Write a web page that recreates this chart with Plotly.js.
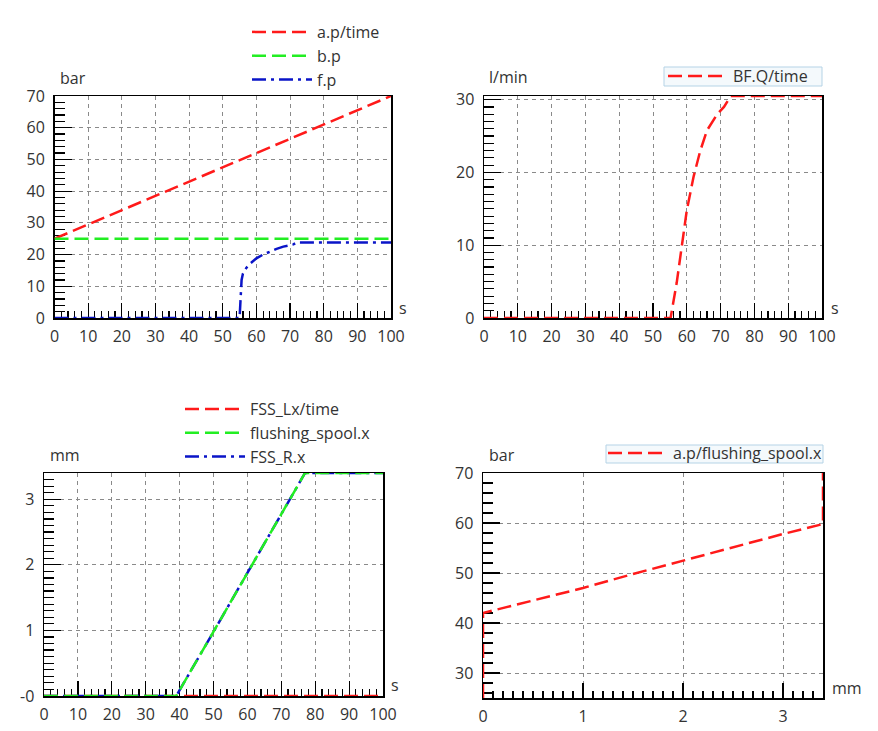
<!DOCTYPE html>
<html>
<head>
<meta charset="utf-8">
<script src="https://cdn.plot.ly/plotly-3.0.1.min.js"></script>
<style>html,body{margin:0;padding:0;background:#fff;}#chart{width:878px;height:731px;}</style>
</head>
<body>
<div id="chart"></div>
<script>
// ---------- Panel 1: pressures vs time ----------
const t1 = [0, 10, 20, 30, 40, 50, 60, 70, 80, 90, 100];
const ap_time = [25, 29.5, 34, 38.5, 43, 47.5, 52, 56.5, 61, 65.5, 70];
const bp_time = [25, 25, 25, 25, 25, 25, 25, 25, 25, 25, 25];
const t_fp = [0, 55, 55.3, 55.6, 56, 57, 58, 59, 60, 62, 64, 66, 68, 70, 71, 72, 80, 90, 100];
const fp = [0, 0, 6, 12, 14, 15.8, 17, 18, 18.8, 20, 21, 21.8, 22.5, 23, 23.2, 23.8, 23.8, 23.8, 23.8];

// ---------- Panel 2: flow vs time ----------
const t_q = [0, 55.2, 57, 58.5, 60, 62, 64, 66, 69, 71, 73, 80, 90, 100];
const bfq = [0, 0, 4.8, 9.8, 14.8, 19.4, 23, 25.8, 28, 29, 30.5, 30.5, 30.5, 30.5];

// ---------- Panel 3: spool positions vs time ----------
const t_s = [0, 39, 50, 60, 70, 77, 80, 90, 100];
const fss_lx = [0, 0, 0, 0, 0, 0, 0, 0, 0];
const spool_x = [0, 0, 0.98, 1.87, 2.76, 3.4, 3.4, 3.4, 3.4];
const fss_rx = [0, 0, 0.98, 1.87, 2.76, 3.4, 3.4, 3.4, 3.4];

// ---------- Panel 4: pressure vs spool position ----------
const sx = [0, 0, 0, 0.5, 1, 1.5, 2, 2.5, 3, 3.4, 3.4];
const ap_sx = [25, 35, 42, 44.5, 47, 49.8, 52.5, 55.2, 57.8, 59.8, 70];

const RED = '#ff1a1a', GREEN = '#22ee22', BLUE = '#0a14c8';
const DASH = '14px,6px';
const DASHDOT = '14px,5px,3px,5px';
const FONT = 'Open Sans, Noto Sans, sans-serif';
const TXT = '#333';

function tr(x, y, name, color, dash, xa, ya, leg, rank) {
  return {x: x, y: y, name: name, type: 'scatter', mode: 'lines',
    line: {color: color, width: 2.5, dash: dash}, xaxis: xa, yaxis: ya,
    legend: leg, legendrank: rank, cliponaxis: false, hoverinfo: 'skip'};
}

const data = [
  tr(t1, ap_time, 'a.p/time', RED, DASH, 'x', 'y', 'legend', 1),
  tr(t1, bp_time, 'b.p', GREEN, DASH, 'x', 'y', 'legend', 2),
  tr(t_fp, fp, 'f.p', BLUE, DASHDOT, 'x', 'y', 'legend', 3),
  tr(t_q, bfq, 'BF.Q/time', RED, DASH, 'x2', 'y2', 'legend2', 1),
  tr(t_s, fss_lx, 'FSS_Lx/time', RED, DASH, 'x3', 'y3', 'legend3', 1),
  tr(t_s, fss_rx, 'FSS_R.x', BLUE, DASHDOT, 'x3', 'y3', 'legend3', 3),
  tr(t_s, spool_x, 'flushing_spool.x', GREEN, DASH, 'x3', 'y3', 'legend3', 2),
  tr(sx, ap_sx, 'a.p/flushing_spool.x', RED, DASH, 'x4', 'y4', 'legend4', 1)
];

function ax(domain, range, dtick, minorDtick, anchor, isX, majLen, minLen, extra) {
  const a = {
    domain: domain, range: range, anchor: anchor, dtick: dtick, tick0: 0,
    showline: true, linecolor: '#000', linewidth: 1.5, mirror: true, layer: 'below traces',
    ticks: 'inside', ticklen: majLen, tickcolor: '#000', tickwidth: 1.2,
    showgrid: true, gridcolor: '#8a8a8a', griddash: '4px,4px', gridwidth: 1,
    zeroline: false, fixedrange: true,
    tickfont: {family: FONT, size: 16, color: TXT},
    ticklabelstandoff: isX ? 3 : 5,
    minor: {dtick: minorDtick, tick0: 0, ticks: 'inside', ticklen: minLen, tickcolor: '#000', tickwidth: 1.2, showgrid: false}
  };
  return Object.assign(a, extra || {});
}

const W = 878, H = 731;
const px = v => v / W;
const py = v => 1 - v / H;

function leg(xl, yt) {
  return {x: px(xl), xanchor: 'left', y: py(yt), yanchor: 'top', bgcolor: 'rgba(0,0,0,0)',
    borderwidth: 0, itemwidth: 60, font: {family: FONT, size: 16, color: TXT},
    itemclick: false, itemdoubleclick: false};
}

const layout = {
  width: W, height: H, margin: {l: 0, r: 0, t: 0, b: 0},
  paper_bgcolor: '#fff', plot_bgcolor: '#fff', showlegend: true,
  font: {family: FONT, color: TXT, size: 16},
  xaxis: ax([px(54.5), px(391)], [0, 100], 10, 2, 'y', true, 15, 7),
  yaxis: ax([py(318), py(96)], [0, 70], 10, 2, 'x', false, 17, 10),
  xaxis2: ax([px(484), px(822)], [0, 100], 10, 2, 'y2', true, 15, 7),
  yaxis2: ax([py(318), py(96)], [0, 30.5], 10, 1, 'x2', false, 17, 10),
  xaxis3: ax([px(44), px(383)], [0, 100], 10, 2, 'y3', true, 15, 7),
  yaxis3: ax([py(696), py(473)], [0, 3.4], 1, 0.1, 'x3', false, 17, 10,
    {tickmode: 'array', tickvals: [0, 1, 2, 3], ticktext: ['-0', '1', '2', '3']}),
  xaxis4: ax([px(483), px(823)], [0, 3.4], 1, 0.1, 'y4', true, 15, 7),
  yaxis4: ax([py(698), py(473)], [25, 70], 10, 2, 'x4', false, 17, 10),
  legend: leg(247, 15),
  legend2: leg(663, 59),
  legend3: leg(180, 392),
  legend4: leg(603, 436),
  shapes: [
    {type: 'rect', xref: 'paper', yref: 'paper', x0: px(664), x1: px(822), y0: py(86), y1: py(67),
      fillcolor: '#f4f9fc', line: {color: '#b5d3e6', width: 1}, layer: 'below'},
    {type: 'rect', xref: 'paper', yref: 'paper', x0: px(606), x1: px(823), y0: py(463), y1: py(445),
      fillcolor: '#f4f9fc', line: {color: '#b5d3e6', width: 1}, layer: 'below'}
  ],
  annotations: [
    {text: 'bar', x: px(58), y: py(78), xanchor: 'left', yanchor: 'middle'},
    {text: 's', x: px(403), y: py(308), xanchor: 'center', yanchor: 'middle'},
    {text: 'l/min', x: px(487), y: py(77), xanchor: 'left', yanchor: 'middle'},
    {text: 's', x: px(835), y: py(308), xanchor: 'center', yanchor: 'middle'},
    {text: 'mm', x: px(48), y: py(455), xanchor: 'left', yanchor: 'middle'},
    {text: 's', x: px(395), y: py(685), xanchor: 'center', yanchor: 'middle'},
    {text: 'bar', x: px(487), y: py(455), xanchor: 'left', yanchor: 'middle'},
    {text: 'mm', x: px(830), y: py(688), xanchor: 'left', yanchor: 'middle'}
  ].map(a => Object.assign({xref: 'paper', yref: 'paper', showarrow: false,
    font: {family: FONT, size: 16, color: TXT}}, a))
};

Plotly.newPlot('chart', data, layout, {staticPlot: true, displayModeBar: false});
</script>
</body>
</html>
